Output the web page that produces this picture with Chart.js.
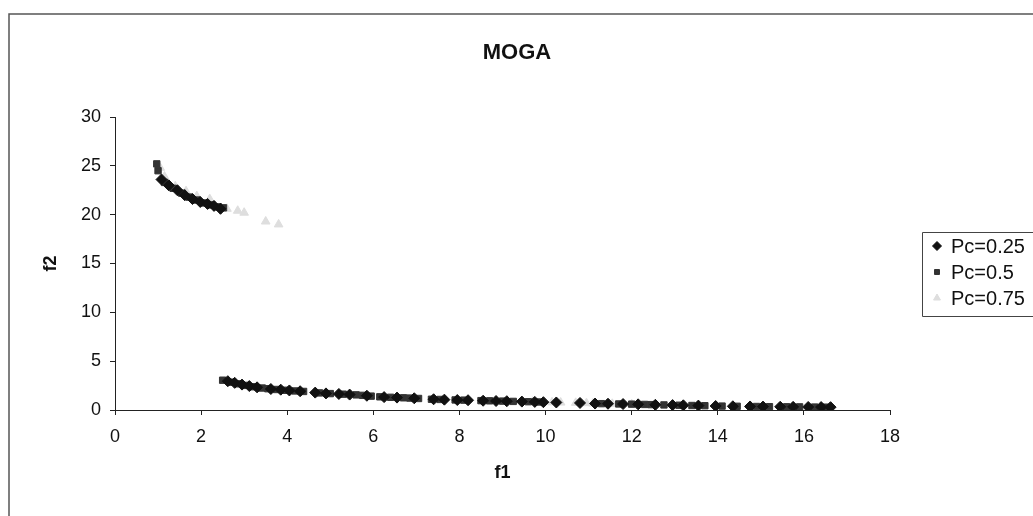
<!DOCTYPE html>
<html>
<head>
<meta charset="utf-8">
<script src="https://cdn.jsdelivr.net/npm/chart.js@4.4.1/dist/chart.umd.min.js"></script>
<style>
  html, body { margin: 0; padding: 0; background: #fff; overflow: hidden; }
  canvas { display: block; }
</style>
</head>
<body>
<canvas id="moga" width="1033" height="516"></canvas>
<script>
// Pareto fronts (f1, f2) for three crossover rates
const chartTitle = 'MOGA';
const seriesNames = ['Pc=0.25', 'Pc=0.5', 'Pc=0.75'];
const xTickValues = [0, 2, 4, 6, 8, 10, 12, 14, 16, 18];
const yTickValues = [0, 5, 10, 15, 20, 25, 30];

const pc25 = [
  [1.08, 23.6], [1.25, 23.0], [1.45, 22.5], [1.62, 22.0], [1.80, 21.6], [1.98, 21.3], [2.15, 21.1],
  [2.30, 20.9], [2.45, 20.6],
  [2.62, 2.95], [2.78, 2.78], [2.95, 2.60], [3.12, 2.45], [3.30, 2.32], [3.62, 2.15], [3.85, 2.08],
  [4.05, 2.00], [4.30, 1.92], [4.65, 1.78], [4.90, 1.70], [5.20, 1.64], [5.45, 1.58], [5.85, 1.46],
  [6.25, 1.32], [6.55, 1.27], [6.95, 1.20], [7.40, 1.10], [7.65, 1.06], [7.95, 1.02], [8.20, 1.00],
  [8.55, 0.95], [8.85, 0.92], [9.10, 0.90], [9.45, 0.86], [9.75, 0.83], [9.95, 0.80], [10.25, 0.77],
  [10.80, 0.72], [11.15, 0.66], [11.45, 0.64], [11.80, 0.61], [12.15, 0.58], [12.55, 0.53],
  [12.95, 0.50], [13.20, 0.48], [13.55, 0.45], [13.95, 0.41], [14.35, 0.38], [14.75, 0.36],
  [15.05, 0.35], [15.45, 0.33], [15.75, 0.32], [16.10, 0.31], [16.40, 0.30], [16.62, 0.29]
];

const pc50 = [
  [0.97, 25.2], [1.00, 24.5], [1.15, 23.3], [1.35, 22.7], [1.55, 22.2], [1.72, 21.8], [1.90, 21.5],
  [2.08, 21.2], [2.25, 21.0], [2.40, 20.8], [2.52, 20.7],
  [2.50, 3.05], [2.70, 2.85], [2.87, 2.68], [3.05, 2.52], [3.22, 2.38], [3.42, 2.25], [3.55, 2.18],
  [3.75, 2.10], [3.95, 2.02], [4.18, 1.95], [4.38, 1.90], [4.75, 1.75], [5.00, 1.68], [5.30, 1.62],
  [5.60, 1.55], [5.75, 1.50], [5.95, 1.42], [6.15, 1.35], [6.40, 1.30], [6.70, 1.25], [6.85, 1.22],
  [7.05, 1.18], [7.35, 1.10], [7.55, 1.08], [7.90, 1.03], [8.10, 1.01], [8.50, 0.96], [8.70, 0.94],
  [9.00, 0.91], [9.25, 0.88], [9.60, 0.85], [9.85, 0.82], [11.30, 0.65], [11.70, 0.62], [12.00, 0.60],
  [12.30, 0.57], [12.45, 0.55], [12.75, 0.52], [13.10, 0.49], [13.40, 0.46], [13.70, 0.44],
  [14.10, 0.40], [14.45, 0.38], [14.90, 0.36], [15.20, 0.34], [15.60, 0.33], [15.90, 0.32],
  [16.25, 0.30], [16.50, 0.29]
];

const pc75 = [
  [1.05, 24.8], [1.15, 23.9], [1.40, 22.9], [1.65, 22.4], [1.90, 21.9], [2.20, 21.6], [2.60, 20.6],
  [2.85, 20.4], [3.00, 20.2], [3.50, 19.3], [3.80, 19.0],
  [9.70, 0.84], [10.15, 0.78], [10.35, 0.76], [10.70, 0.73], [10.95, 0.70], [11.10, 0.67],
  [11.55, 0.63], [12.00, 0.60]
];

const toPoints = arr => arr.map(([x, y]) => ({ x, y }));
const fontFamily = '"Liberation Sans", Arial, sans-serif';

// white page, outer frame (top and left edges) and the chart title
const outerFrame = {
  id: 'outerFrame',
  beforeDraw(chart) {
    const ctx = chart.ctx;
    ctx.save();
    ctx.fillStyle = '#fff';
    ctx.fillRect(0, 0, chart.width, chart.height);
    ctx.strokeStyle = '#555';
    ctx.lineWidth = 1.5;
    ctx.beginPath();
    ctx.moveTo(chart.width + 5, 14);
    ctx.lineTo(9, 14);
    ctx.lineTo(9, chart.height + 5);
    ctx.stroke();

    ctx.fillStyle = '#111';
    ctx.font = 'bold 22px ' + fontFamily;
    ctx.textAlign = 'center';
    ctx.textBaseline = 'middle';
    ctx.fillText(chartTitle, 517, 53);
    ctx.restore();
  }
};

// legend in a bordered box to the right of the plot
const boxedLegend = {
  id: 'boxedLegend',
  afterDraw(chart) {
    const ctx = chart.ctx;
    const left = 922.5, top = 232.5, bottom = 316.5;
    ctx.save();
    ctx.strokeStyle = '#444';
    ctx.lineWidth = 1;
    ctx.beginPath();
    ctx.moveTo(chart.width + 5, top);
    ctx.lineTo(left, top);
    ctx.lineTo(left, bottom);
    ctx.lineTo(chart.width + 5, bottom);
    ctx.stroke();

    ctx.font = '20px ' + fontFamily;
    ctx.textBaseline = 'middle';
    chart.data.datasets.forEach((ds, i) => {
      const y = 246 + i * 26;
      ctx.fillStyle = ds.backgroundColor;
      ctx.strokeStyle = ds.borderColor;
      Chart.helpers.drawPoint(ctx, {
        pointStyle: ds.pointStyle, radius: ds.pointRadius - 1, rotation: 0, borderWidth: 1
      }, 937, y);
      ctx.fillStyle = '#111';
      ctx.fillText(ds.label, 951, y + 1);
    });
    ctx.restore();
  }
};

new Chart(document.getElementById('moga'), {
  type: 'scatter',
  data: {
    datasets: [
      {
        label: seriesNames[0], data: toPoints(pc25), pointStyle: 'rectRot', pointRadius: 5.5,
        backgroundColor: '#111', borderColor: '#111', borderWidth: 1
      },
      {
        label: seriesNames[1], data: toPoints(pc50), pointStyle: 'rect', pointRadius: 4.5,
        backgroundColor: '#333', borderColor: '#333', borderWidth: 1
      },
      {
        label: seriesNames[2], data: toPoints(pc75), pointStyle: 'triangle', pointRadius: 5,
        backgroundColor: '#dedede', borderColor: '#dedede', borderWidth: 1
      }
    ]
  },
  options: {
    responsive: false,
    animation: false,
    layout: { padding: { top: 117, left: 10, right: 143, bottom: 28 } },
    plugins: {
      legend: { display: false },
      tooltip: { enabled: false }
    },
    scales: {
      x: {
        type: 'linear',
        min: 0, max: 18,
        afterBuildTicks: scale => { scale.ticks = xTickValues.map(v => ({ value: v })); },
        afterFit: scale => { scale.height = 78; },
        border: { display: true, color: '#222', width: 1 },
        grid: { drawOnChartArea: false, drawTicks: true, tickLength: 5, color: '#222' },
        ticks: {
          color: '#111', padding: 11, maxRotation: 0,
          font: { family: fontFamily, size: 18 }
        },
        title: {
          display: true, text: 'f1', color: '#111', padding: { top: 10, bottom: 4 },
          font: { family: fontFamily, size: 18, weight: 'bold' }
        }
      },
      y: {
        type: 'linear',
        min: 0, max: 30,
        afterBuildTicks: scale => { scale.ticks = yTickValues.map(v => ({ value: v })); },
        afterFit: scale => { scale.width = 105; },
        border: { display: true, color: '#222', width: 1 },
        grid: { drawOnChartArea: false, drawTicks: true, tickLength: 5, color: '#222' },
        ticks: {
          color: '#111', padding: 9,
          font: { family: fontFamily, size: 18 }
        },
        title: {
          display: true, text: 'f2', color: '#111', padding: { top: 30, bottom: 0 },
          font: { family: fontFamily, size: 18, weight: 'bold' }
        }
      }
    }
  },
  plugins: [outerFrame, boxedLegend]
});
</script>
</body>
</html>
